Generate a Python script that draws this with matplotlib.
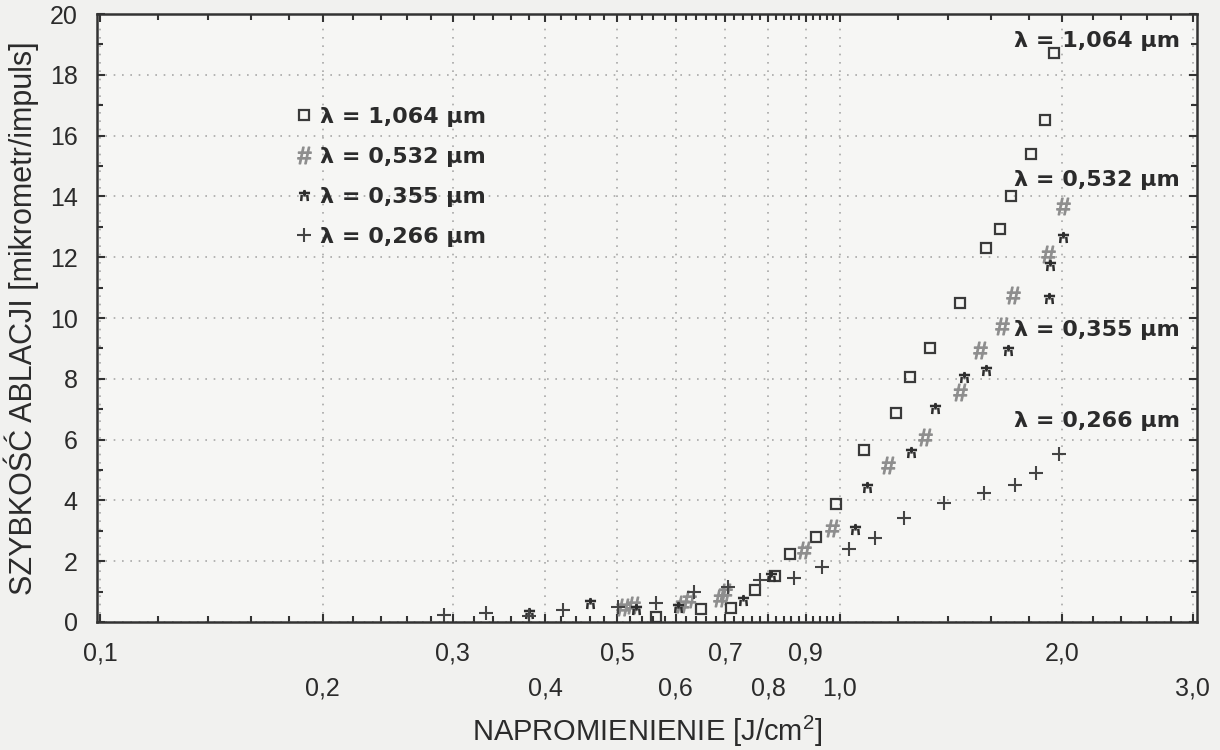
import numpy as np
import matplotlib
matplotlib.use("Agg")
import matplotlib.pyplot as plt
from matplotlib.path import Path
from matplotlib.ticker import FixedLocator, NullFormatter

# ---- data: fluence [J/cm^2] vs ablation rate [um/pulse] ----
x_1064 = [0.565, 0.650, 0.713, 0.768, 0.817, 0.856, 0.928, 0.988, 1.077, 1.19,
          1.246, 1.326, 1.455, 1.578, 1.648, 1.705, 1.815, 1.895, 1.95]
y_1064 = [0.15, 0.43, 0.46, 1.05, 1.52, 2.24, 2.8, 3.89, 5.67, 6.89,
          8.07, 9.0, 10.5, 12.29, 12.92, 14.0, 15.39, 16.5, 18.71]

x_532 = [0.51, 0.525, 0.612, 0.625, 0.69, 0.70, 0.894, 0.975, 1.164, 1.306,
         1.455, 1.549, 1.659, 1.716, 1.913, 2.004]
y_532 = [0.5, 0.55, 0.6, 0.75, 0.8, 1.0, 2.37, 3.1, 5.17, 6.1,
         7.55, 8.96, 9.75, 10.77, 12.09, 13.7]

x_355 = [0.38, 0.46, 0.531, 0.605, 0.74, 0.807, 1.048, 1.09, 1.25, 1.347,
         1.474, 1.578, 1.69, 1.92, 1.925, 2.004]
y_355 = [0.3, 0.62, 0.43, 0.5, 0.72, 1.5, 3.05, 4.45, 5.6, 7.05,
         8.07, 8.3, 8.96, 10.67, 11.76, 12.65]

x_266 = [0.292, 0.333, 0.38, 0.423, 0.502, 0.565, 0.636, 0.706, 0.78, 0.867,
         0.946, 1.028, 1.115, 1.22, 1.385, 1.568, 1.727, 1.843, 1.98]
y_266 = [0.23, 0.3, 0.2, 0.39, 0.49, 0.62, 1.0, 1.15, 1.38, 1.45,
         1.81, 2.4, 2.77, 3.43, 3.92, 4.25, 4.51, 4.9, 5.53]

series_labels = ["λ = 1,064 µm", "λ = 0,532 µm", "λ = 0,355 µm", "λ = 0,266 µm"]
# right-hand annotations (x, y in data units)
note_x = [1.72, 1.72, 1.72, 1.72]
note_y = [19.1, 14.55, 9.6, 6.6]

x_major = [0.1, 0.2, 0.3, 0.4, 0.5, 0.6, 0.7, 0.8, 0.9, 1.0, 2.0, 3.0]
x_major_labels = ["0,1", "0,2", "0,3", "0,4", "0,5", "0,6", "0,7", "0,8", "0,9",
                  "1,0", "2,0", "3,0"]
y_major = [0, 2, 4, 6, 8, 10, 12, 14, 16, 18, 20]

TXT = "#2b2b2b"
plt.rcParams["font.family"] = ["Liberation Sans", "DejaVu Sans"]
plt.rcParams["mathtext.fontset"] = "custom"
plt.rcParams["mathtext.rm"] = "Liberation Sans"

fig = plt.figure(figsize=(12.2, 7.5), dpi=100, facecolor="#f1f1ef")
ax = fig.add_axes([0.0795, 0.1707, 0.9016, 0.8106])
ax.set_facecolor("#f6f6f4")

# custom "little tree" marker for the 0.355 um series
tree = Path(
    [(0, 1.0), (0, -0.2), (-1.0, 0.45), (1.0, 0.45),
     (-0.5, 0.1), (-0.6, -1.0), (0.5, 0.1), (0.6, -1.0)],
    [Path.MOVETO, Path.LINETO, Path.MOVETO, Path.LINETO,
     Path.MOVETO, Path.LINETO, Path.MOVETO, Path.LINETO])

h1, = ax.plot(x_1064, y_1064, ls="none", marker="s", ms=7.5, mfc="none",
              mec="#3a3a3a", mew=1.6)
h2, = ax.plot(x_532, y_532, ls="none", marker=r"$\#$", ms=12, color="#8e8e8e")
h3, = ax.plot(x_355, y_355, ls="none", marker=tree, ms=8, mfc="none",
              mec="#2e2e2e", mew=1.8)
h4, = ax.plot(x_266, y_266, ls="none", marker="+", ms=10, color="#444444",
              mew=1.5)

ax.set_xscale("log")
ax.set_xlim(0.0991, 3.04)
ax.set_ylim(0, 20)

minor_x = [v / 100 for v in range(12, 100, 2) if v % 10] + \
          [1.2, 1.4, 1.6, 1.8, 2.2, 2.4, 2.6, 2.8]
ax.xaxis.set_major_locator(FixedLocator(x_major))
ax.xaxis.set_minor_locator(FixedLocator(minor_x))
ax.xaxis.set_minor_formatter(NullFormatter())
# staggered labels: every second label one row lower
ax.set_xticks(x_major, [("\n" + s) if i % 2 else s
                        for i, s in enumerate(x_major_labels)])
for lbl in ax.get_xticklabels():
    lbl.set_linespacing(1.6)

ax.set_yticks(y_major)
ax.yaxis.set_minor_locator(FixedLocator(range(1, 20, 2)))

ax.tick_params(which="both", direction="in", top=True, right=True,
               colors="#333333", labelcolor=TXT, labelsize=18)
ax.tick_params(which="major", length=6, width=1.5)
ax.tick_params(which="minor", length=4, width=1.5)
ax.tick_params(axis="x", which="major", pad=14)
ax.tick_params(axis="y", which="major", pad=14)

for s in ax.spines.values():
    s.set_linewidth(1.8)
    s.set_color("#333333")

ax.grid(True, which="major", ls=(0, (1, 4)), color="#a8a8a8", lw=1.2)

ax.set_xlabel("NAPROMIENIENIE [J/cm$^{2}$]", fontsize=21, color=TXT, labelpad=9)
ax.set_ylabel("SZYBKOŚĆ ABLACJI [mikrometr/impuls]", fontsize=22, color=TXT,
              labelpad=8)

leg = ax.legend([h1, h2, h3, h4], series_labels, loc="upper left",
                bbox_to_anchor=(0.163, 0.88), frameon=False,
                handlelength=0.7, handletextpad=0.35, labelspacing=0.9,
                prop={"family": "DejaVu Sans", "weight": "bold", "size": 16})
for t in leg.get_texts():
    t.set_color(TXT)

for lab, xx, yy in zip(series_labels, note_x, note_y):
    ax.text(xx, yy, lab, ha="left", va="center", fontsize=16,
            fontweight="bold", family="DejaVu Sans", color=TXT)

fig.savefig("out.png", dpi=100, facecolor=fig.get_facecolor())
